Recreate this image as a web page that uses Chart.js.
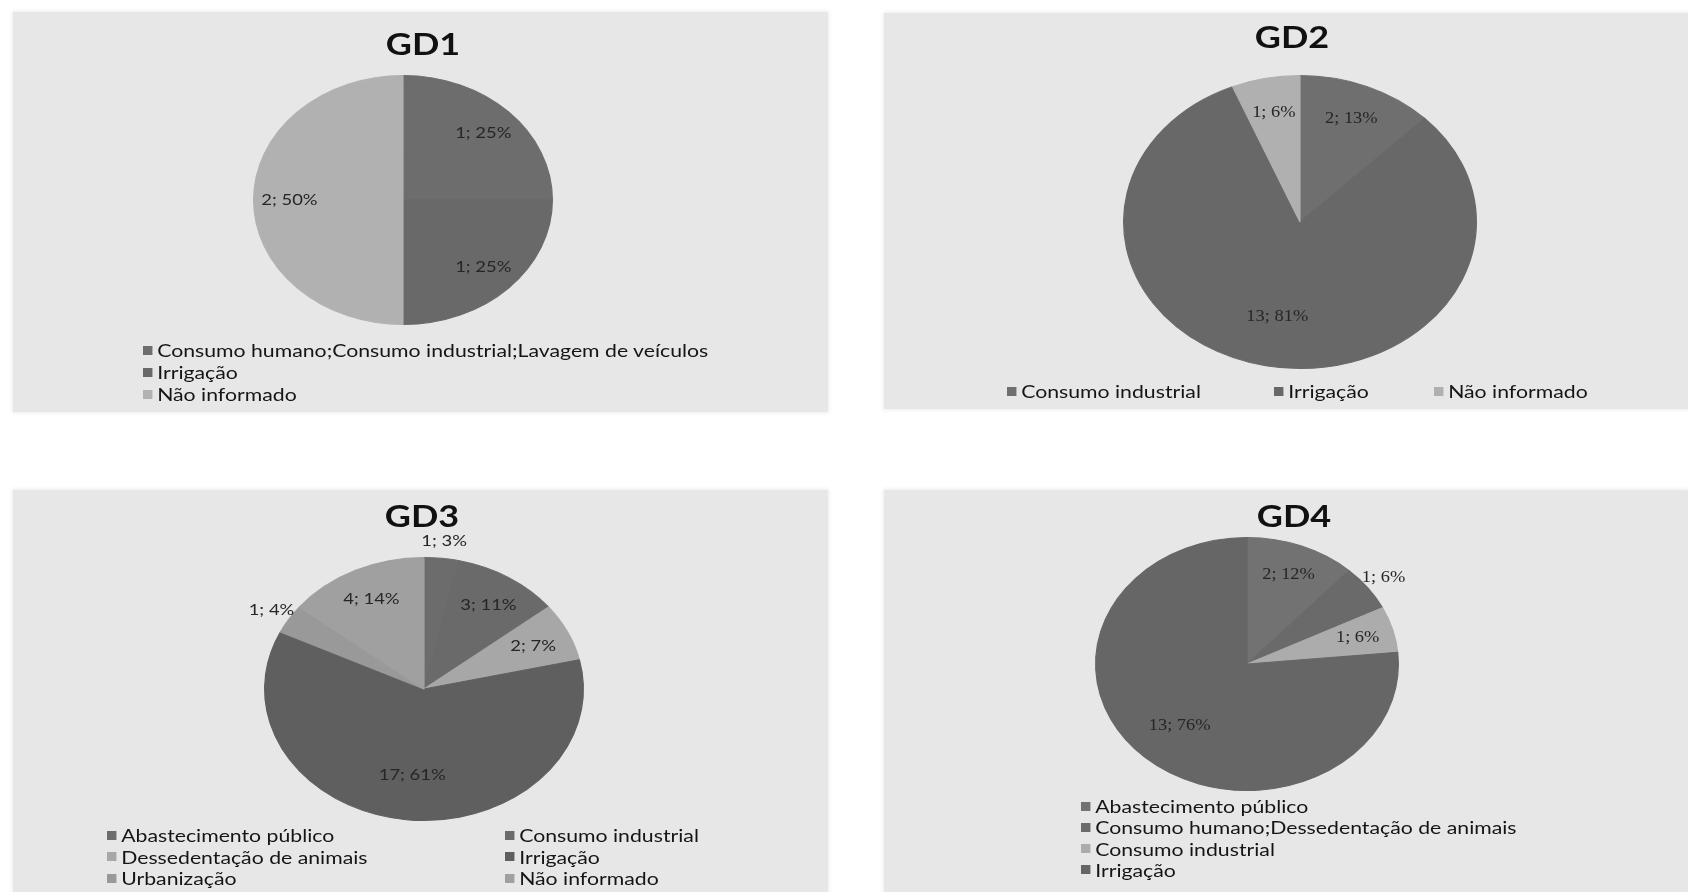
<!DOCTYPE html>
<html>
<head>
<meta charset="utf-8">
<script src="https://cdn.jsdelivr.net/npm/chart.js@4.4.1/dist/chart.umd.min.js"></script>
<style>
  html, body { margin: 0; padding: 0; background: #ffffff; width: 1688px; height: 892px; overflow: hidden; }
  body { position: relative; font-family: Lato, "Open Sans", sans-serif; }
  .panel { position: absolute; background: #e7e7e7; box-shadow: 0 0 4px 1px #ededed; }
  .panel canvas { position: absolute; left: 0; top: 0; }
  .title { position: absolute; font-weight: bold; font-size: 30px; color: #111; line-height: 1;
           white-space: nowrap; transform: translate(-50%, -50%) scaleX(1.2); }
  .item { position: absolute; height: 22px; display: flex; align-items: center; white-space: nowrap;
          font-size: 18px; color: #151515; transform-origin: left center; transform: scaleX(1.18); }
  .sw { width: 8px; height: 9px; margin-right: 4px; flex: none; }
</style>
</head>
<body>
<script>
// ---- GD1 ----
const gd1Labels = ["Consumo humano;Consumo industrial;Lavagem de veículos", "Irrigação", "Não informado"];
const gd1Values = [1, 1, 2];
const gd1Pct = [25, 25, 50];

// ---- GD2 ----
const gd2Labels = ["Consumo industrial", "Irrigação", "Não informado"];
const gd2Values = [2, 13, 1];
const gd2Pct = [13, 81, 6];

// ---- GD3 ----
const gd3Labels = ["Abastecimento público", "Consumo industrial", "Dessedentação de animais",
                   "Irrigação", "Urbanização", "Não informado"];
const gd3Values = [1, 3, 2, 17, 1, 4];
const gd3Pct = [3, 11, 7, 61, 4, 14];

// ---- GD4 ----
const gd4Labels = ["Abastecimento público", "Consumo humano;Dessedentação de animais",
                   "Consumo industrial", "Irrigação"];
const gd4Values = [2, 1, 1, 13];
const gd4Pct = [12, 6, 6, 76];

// Slice greys per chart
const gd1Colors = ["#6d6d6d", "#696969", "#b1b1b1"];
const gd2Colors = ["#6f6f6f", "#686868", "#b0b0b0"];
const gd3Colors = ["#6c6c6c", "#6a6a6a", "#a7a7a7", "#5f5f5f", "#999999", "#a0a0a0"];
const gd4Colors = ["#727272", "#6a6a6a", "#acacac", "#666666"];

// Page layout of the four panels (page pixels)
const charts = [
  { title: "GD1", labels: gd1Labels, values: gd1Values, pct: gd1Pct, colors: gd1Colors,
    panel: [13, 12, 815, 400], cx: 403, cy: 200, rx: 150, ry: 125, titleAt: [423, 43],
    labelFont: "Lato, sans-serif", outside: [],
    legend: { mode: "list", x: 143, y: 350, dy: 22 } },
  { title: "GD2", labels: gd2Labels, values: gd2Values, pct: gd2Pct, colors: gd2Colors,
    panel: [884, 13, 804, 396], cx: 1300, cy: 222, rx: 177, ry: 147, titleAt: [1292, 36],
    labelFont: "'Liberation Serif', serif", outside: [],
    legend: { mode: "row", y: 391, xs: [1007, 1274, 1434] } },
  { title: "GD3", labels: gd3Labels, values: gd3Values, pct: gd3Pct, colors: gd3Colors,
    panel: [13, 490, 815, 402], cx: 424, cy: 689, rx: 160, ry: 132, titleAt: [422, 515],
    labelFont: "Lato, sans-serif", outside: [0, 4],
    legend: { mode: "grid", xs: [107, 505], y: 835, dy: 21.5 } },
  { title: "GD4", labels: gd4Labels, values: gd4Values, pct: gd4Pct, colors: gd4Colors,
    panel: [884, 490, 804, 402], cx: 1247, cy: 664, rx: 152, ry: 127, titleAt: [1294, 515],
    labelFont: "'Liberation Serif', serif", outside: [1],
    legend: { mode: "list", x: 1081, y: 806, dy: 21.3 } }
];

// Stretches the pie horizontally into an ellipse and writes "value; pct%" labels
const ellipsePie = {
  id: "ellipsePie",
  beforeDatasetsDraw(chart, args, opts) {
    const a = chart.chartArea;
    const cx = (a.left + a.right) / 2, cy = (a.top + a.bottom) / 2;
    const ctx = chart.ctx;
    ctx.save();
    ctx.translate(cx, cy);
    ctx.scale(opts.sx, 1);
    ctx.translate(-cx, -cy);
  },
  afterDatasetsDraw(chart, args, opts) {
    const ctx = chart.ctx;
    ctx.restore();
    const meta = chart.getDatasetMeta(0);
    const ds = chart.data.datasets[0];
    const total = ds.data.reduce((s, v) => s + v, 0);
    meta.data.forEach((arc, i) => {
      const p = arc.getProps(["x", "y", "startAngle", "endAngle", "outerRadius"], true);
      const mid = (p.startAngle + p.endAngle) / 2;
      const share = ds.data[i] / total;
      const outside = opts.outside.includes(i);
      const f = outside ? 1.13 : (share > 0.5 ? 0.66 : 0.76);
      const x = p.x + Math.cos(mid) * p.outerRadius * f * opts.sx;
      const y = p.y + Math.sin(mid) * p.outerRadius * f;
      ctx.save();
      ctx.translate(x, y);
      ctx.scale(1.15, 1);
      ctx.font = "16px " + opts.font;
      ctx.fillStyle = "#262626";
      ctx.textAlign = "center";
      ctx.textBaseline = "middle";
      ctx.fillText(ds.data[i] + "; " + opts.pct[i] + "%", 0, 0);
      ctx.restore();
    });
  }
};

function addLegendItem(text, color, x, y) {
  const it = document.createElement("div");
  it.className = "item";
  it.style.left = x + "px";
  it.style.top = (y - 11) + "px";
  const sw = document.createElement("span");
  sw.className = "sw";
  sw.style.background = color;
  it.appendChild(sw);
  it.appendChild(document.createTextNode(text));
  document.body.appendChild(it);
}

charts.forEach(c => {
  const [px, py, pw, ph] = c.panel;
  const panel = document.createElement("div");
  panel.className = "panel";
  Object.assign(panel.style, { left: px + "px", top: py + "px", width: pw + "px", height: ph + "px" });
  const cv = document.createElement("canvas");
  cv.width = pw; cv.height = ph;
  cv.style.width = pw + "px"; cv.style.height = ph + "px";
  panel.appendChild(cv);
  document.body.appendChild(panel);

  const lx = c.cx - px, ly = c.cy - py;
  new Chart(cv, {
    type: "pie",
    data: {
      labels: c.labels,
      datasets: [{ data: c.values, backgroundColor: c.colors, borderColor: c.colors, borderWidth: 1,
                   hoverBorderWidth: 1, offset: 0, hoverOffset: 0, clip: false }]
    },
    options: {
      responsive: false,
      animation: false,
      events: [],
      layout: { padding: { left: lx - c.ry, right: pw - lx - c.ry, top: ly - c.ry, bottom: ph - ly - c.ry } },
      plugins: {
        legend: { display: false },
        tooltip: { enabled: false },
        title: { display: false },
        ellipsePie: { sx: c.rx / c.ry, pct: c.pct, font: c.labelFont, outside: c.outside }
      }
    },
    plugins: [ellipsePie]
  });

  const t = document.createElement("div");
  t.className = "title";
  t.textContent = c.title;
  t.style.left = c.titleAt[0] + "px";
  t.style.top = c.titleAt[1] + "px";
  document.body.appendChild(t);

  const L = c.legend;
  c.labels.forEach((lab, i) => {
    if (L.mode === "list") addLegendItem(lab, c.colors[i], L.x, L.y + i * L.dy);
    else if (L.mode === "row") addLegendItem(lab, c.colors[i], L.xs[i], L.y);
    else addLegendItem(lab, c.colors[i], L.xs[i % 2], L.y + Math.floor(i / 2) * L.dy);
  });
});
</script>
</body>
</html>
